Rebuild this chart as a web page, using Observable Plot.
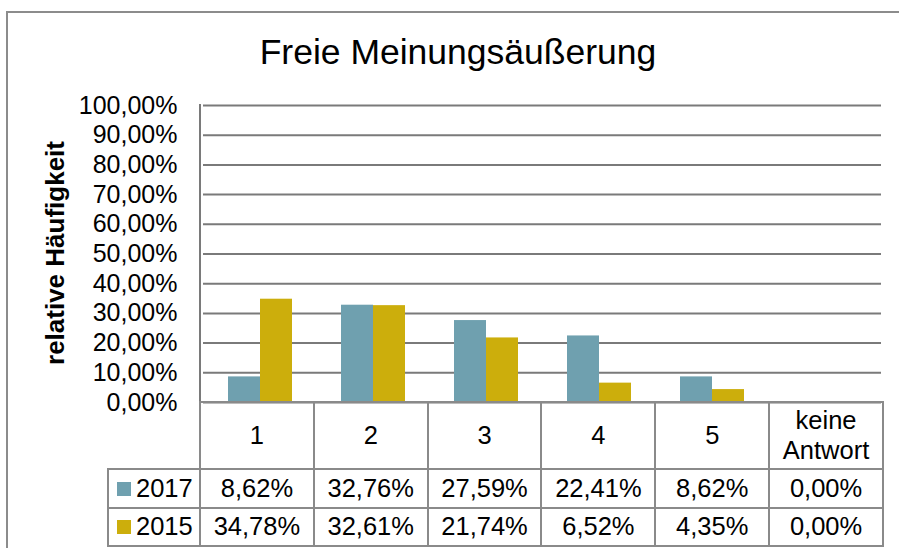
<!DOCTYPE html>
<html><head><meta charset="utf-8">
<script src="https://cdn.jsdelivr.net/npm/d3@7"></script>
<script src="https://cdn.jsdelivr.net/npm/@observablehq/plot@0.6"></script>
<style>
html,body{margin:0;padding:0;background:#fff;}
#wrap{position:relative;width:899px;height:548px;overflow:hidden;font-family:"Liberation Sans",Arial,sans-serif;color:#000;}
#frame{position:absolute;left:6px;top:11px;width:960px;height:600px;border:2px solid #8c8c8c;box-sizing:border-box;}
#title{position:absolute;left:0;width:916px;top:35px;font-size:35.5px;line-height:35px;text-align:center;white-space:nowrap;}
#ylabel{position:absolute;left:55px;top:253px;transform:translate(-50%,-50%) rotate(-90deg);font-size:26px;font-weight:bold;white-space:nowrap;line-height:1;}
#chart{position:absolute;left:0;top:0;}
#axisline{position:absolute;left:199px;top:104px;width:2px;height:300px;background:#7a7a7a;}
#tbl{position:absolute;left:107px;top:401px;border-collapse:collapse;table-layout:fixed;font-size:25.5px;width:777px;}
#tbl td{border:2px solid #8a8a8a;text-align:center;padding:0;line-height:1.15;}
#tbl td.blank{border-top:none;border-left:none;}
#tbl td.leg{text-align:left;padding-left:8px;white-space:nowrap;}
.sw{display:inline-block;width:14px;height:14px;margin-right:5px;vertical-align:1px;}
</style>
</head>
<body>
<div id="wrap">
  <div id="frame"></div>
  <div id="title"></div>
  <div id="ylabel"></div>
  <div id="chart"></div>
  <div id="axisline"></div>
  <table id="tbl"></table>
</div>
<script>
const title = "Freie Meinungsäußerung";
const yLabel = "relative Häufigkeit";
const categories = ["1", "2", "3", "4", "5", "keine Antwort"];
const seriesNames = ["2017", "2015"];
const values2017 = [0.0862, 0.3276, 0.2759, 0.2241, 0.0862, 0.0];
const values2015 = [0.3478, 0.3261, 0.2174, 0.0652, 0.0435, 0.0];
const colors = ["#6fa0af", "#ccae0c"];
const yTicks = [0, 0.1, 0.2, 0.3, 0.4, 0.5, 0.6, 0.7, 0.8, 0.9, 1.0];

const de = d3.formatLocale({decimal: ",", thousands: ".", grouping: [3], currency: ["", " €"], percent: "%"});
const pct = de.format(".2%");

const seriesValues = {"2017": values2017, "2015": values2015};
const data = [];
categories.forEach((c, i) => seriesNames.forEach(s => data.push({cat: c, year: s, value: seriesValues[s][i]})));

document.getElementById("title").textContent = title;
document.getElementById("ylabel").textContent = yLabel;

const chart = Plot.plot({
  width: 899,
  height: 548,
  marginLeft: 200,
  marginRight: 16,
  marginTop: 105,
  marginBottom: 146,
  style: {fontFamily: "Liberation Sans, Arial, sans-serif", fontSize: "25px", background: "transparent", overflow: "visible", color: "#000"},
  fx: {domain: categories, padding: 0, axis: null},
  x: {domain: seriesNames, paddingInner: 0, paddingOuter: 0.75, axis: null},
  y: {domain: [0, 1]},
  color: {domain: seriesNames, range: colors},
  marks: [
    Plot.gridY(yTicks, {stroke: "#7a7a7a", strokeOpacity: 1, strokeWidth: 2}),
    Plot.axisY({ticks: yTicks, tickFormat: pct, tickSize: 0, tickPadding: 26, label: null, fontSize: 25}),
    Plot.barY(data, {fx: "cat", x: "year", y: "value", fill: "year"})
  ]
});
document.getElementById("chart").appendChild(chart);

// data table
const tbl = document.getElementById("tbl");
const colgroup = document.createElement("colgroup");
const c0 = document.createElement("col"); c0.style.width = "92px"; colgroup.appendChild(c0);
categories.forEach(() => { const c = document.createElement("col"); c.style.width = "113.83px"; colgroup.appendChild(c); });
tbl.appendChild(colgroup);

const hr = document.createElement("tr"); hr.style.height = "67px";
const blank = document.createElement("td"); blank.className = "blank"; hr.appendChild(blank);
categories.forEach(c => {
  const td = document.createElement("td");
  td.innerHTML = c === "keine Antwort" ? "keine<br>Antwort" : c;
  hr.appendChild(td);
});
tbl.appendChild(hr);

seriesNames.forEach((s, k) => {
  const tr = document.createElement("tr"); tr.style.height = k === 0 ? "39px" : "38px";
  const lg = document.createElement("td"); lg.className = "leg";
  const sw = document.createElement("span"); sw.className = "sw"; sw.style.background = colors[k];
  lg.appendChild(sw); lg.appendChild(document.createTextNode(s));
  tr.appendChild(lg);
  seriesValues[s].forEach(v => {
    const td = document.createElement("td"); td.textContent = pct(v); tr.appendChild(td);
  });
  tbl.appendChild(tr);
});
</script>
</body></html>
